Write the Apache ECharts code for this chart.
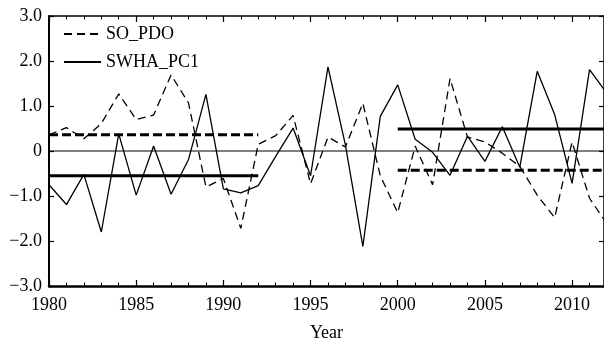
<!DOCTYPE html>
<html><head><meta charset="utf-8">
<script src="https://cdn.jsdelivr.net/npm/echarts@6/dist/echarts.min.js"></script>
<style>html,body{margin:0;padding:0;background:#fff}#c{width:604px;height:347px}</style>
</head><body><div id="c"></div>
<script>
const years = [1980,1981,1982,1983,1984,1985,1986,1987,1988,1989,1990,1991,1992,1993,1994,1995,1996,1997,1998,1999,2000,2001,2002,2003,2004,2005,2006,2007,2008,2009,2010,2011,2012];
const soPdo = [0.36,0.52,0.27,0.61,1.27,0.70,0.80,1.69,1.07,-0.80,-0.61,-1.72,0.15,0.34,0.79,-0.73,0.31,0.09,1.06,-0.55,-1.37,0.11,-0.75,1.61,0.31,0.20,-0.05,-0.34,-0.98,-1.48,0.20,-1.05,-1.62];
const swhaPc1 = [-0.75,-1.19,-0.52,-1.80,0.38,-0.98,0.11,-0.96,-0.19,1.26,-0.84,-0.93,-0.77,-0.12,0.51,-0.55,1.87,0.13,-2.12,0.77,1.47,0.26,-0.03,-0.54,0.33,-0.23,0.54,-0.36,1.77,0.81,-0.72,1.81,1.28];
const seriesNames = ['SO_PDO','SWHA_PC1'];
// period means: [start, end, value]
const soPdoMeans = [[1980,1992,0.36],[2000,2012,-0.43]];
const swhaMeans = [[1980,1992,-0.55],[2000,2012,0.49]];
const yTicks = [-3,-2,-1,0,1,2,3];
const xLabel = 'Year';

const font = 'Liberation Serif, Times New Roman, serif';
const pair = (xs, ys) => xs.map((x,i)=>[x, ys[i]]);
const meanSeries = (arr, dashed) => arr.map(m => ({
  type:'line', data:[[m[0],m[2]],[m[1],m[2]]], symbol:'none', silent:true,
  lineStyle:{color:'#000', width:3, type: dashed ? [9,4] : 'solid'}, z:3
}));

const chart = echarts.init(document.getElementById('c'), null, {renderer:'canvas'});
chart.setOption({
  animation:false,
  backgroundColor:'#fff',
  grid:{left:49, right:-1, top:16, bottom:52},
  legend:{
    orient:'vertical', left:58, top:20, itemWidth:37, itemHeight:14, itemGap:10,
    data: seriesNames,
    itemStyle:{color:'transparent', borderWidth:0, opacity:0},
    textStyle:{fontFamily:font, fontSize:18, color:'#000'}
  },
  xAxis:[{
    type:'value', min:1980, max:2011.83, interval:5, position:'bottom',
    name:xLabel, nameLocation:'middle', nameGap:38,
    nameTextStyle:{fontFamily:font, fontSize:18, color:'#000'},
    axisLine:{onZero:false, lineStyle:{color:'#000', width:2.5}},
    axisTick:{inside:true, length:6, lineStyle:{color:'#000', width:1.2}},
    minorTick:{show:true, splitNumber:5, length:3.5, lineStyle:{color:'#000', width:1}},
    axisLabel:{fontFamily:font, fontSize:18, color:'#000', margin:10, showMaxLabel:false, formatter:v=>String(v)},
    splitLine:{show:false}
  },{
    type:'value', min:1980, max:2011.83, interval:5, position:'top',
    axisLine:{onZero:false, lineStyle:{color:'#000', width:1.5}},
    axisTick:{inside:true, length:6, lineStyle:{color:'#000', width:1.2}},
    minorTick:{show:true, splitNumber:5, length:3.5, lineStyle:{color:'#000', width:1}},
    axisLabel:{show:false}, splitLine:{show:false}
  }],
  yAxis:[{
    type:'value', min:yTicks[0], max:yTicks[yTicks.length-1], interval:1, position:'left',
    axisLine:{onZero:false, lineStyle:{color:'#000', width:2}},
    axisTick:{inside:true, length:5, lineStyle:{color:'#000', width:1.2}},
    axisLabel:{fontFamily:font, fontSize:18, color:'#000', margin:7,
      formatter:v=> v===0 ? '0' : (v<0 ? '\u2212'+Math.abs(v).toFixed(1) : v.toFixed(1))},
    splitLine:{show:false}
  },{
    type:'value', min:yTicks[0], max:yTicks[yTicks.length-1], interval:1, position:'right',
    axisLine:{show:true, onZero:false, lineStyle:{color:'#000', width:1.5}},
    axisTick:{inside:true, length:5, lineStyle:{color:'#000', width:1.2}},
    axisLabel:{show:false}, splitLine:{show:false}
  }],
  series:[
    {type:'line', name:'zero', data:[[1980,0],[2012,0]], symbol:'none', silent:true,
     lineStyle:{color:'#000', width:1}, z:1},
    {type:'line', name:seriesNames[0], data:pair(years, soPdo), symbol:'none', clip:true,
     itemStyle:{color:'#000'}, lineStyle:{color:'#000', width:1.3, type:[8,5]}},
    {type:'line', name:seriesNames[1], data:pair(years, swhaPc1), symbol:'none', clip:true,
     itemStyle:{color:'#000'}, lineStyle:{color:'#000', width:1.3}},
    ...meanSeries(soPdoMeans, true),
    ...meanSeries(swhaMeans, false)
  ]
});
</script></body></html>
